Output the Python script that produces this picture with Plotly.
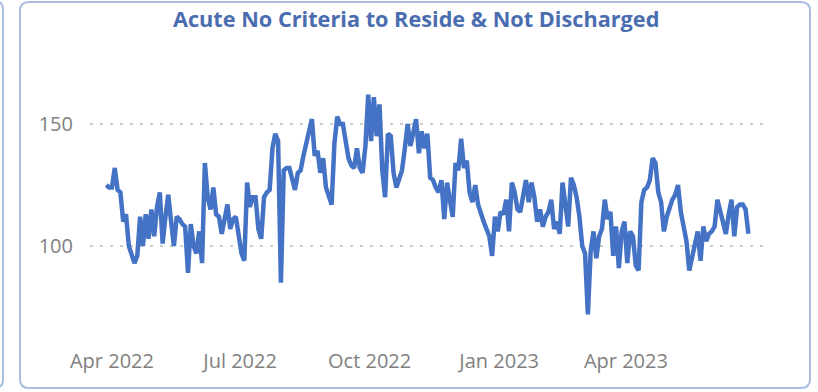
import pandas as pd
import plotly.graph_objects as go

# Census of acute patients with no criteria to reside, sampled every second day
start_date = "2022-03-28"
step_days = 2
patients = [
    125, 124, 124, 132, 123, 122, 110, 113, 100, 97,
    93, 96, 112, 100, 113, 103, 115, 104, 116, 122,
    101, 112, 121, 110, 100, 112, 111, 109, 108, 89,
    109, 100, 97, 106, 93, 134, 120, 115, 124, 113,
    112, 105, 110, 117, 107, 111, 112, 104, 97, 94,
    126, 116, 120, 120, 107, 103, 120, 122, 123, 140,
    146, 143, 85, 131, 132, 132, 128, 123, 130, 131,
    137, 142, 146, 152, 137, 139, 130, 136, 124, 120,
    117, 142, 153, 150, 150, 143, 136, 133, 132, 140,
    132, 130, 141, 162, 143, 161, 145, 158, 131, 120,
    146, 145, 130, 124, 128, 131, 140, 150, 141, 146,
    152, 138, 147, 140, 146, 128, 127, 124, 122, 127,
    111, 126, 118, 112, 134, 131, 144, 132, 135, 122,
    118, 125, 117, 113, 110, 107, 104, 96, 112, 106,
    114, 113, 119, 106, 126, 122, 115, 114, 121, 127,
    118, 126, 120, 110, 115, 108, 112, 114, 119, 107,
    110, 105, 126, 118, 108, 128, 125, 120, 112, 100,
    97, 72, 98, 106, 95, 104, 107, 119, 111, 114,
    96, 108, 91, 106, 110, 93, 106, 104, 92, 90,
    118, 123, 124, 127, 136, 134, 122, 118, 106, 112,
    116, 119, 121, 125, 114, 108, 102, 90, 95, 99,
    106, 94, 108, 102, 105, 106, 108, 119, 114, 110,
    105, 113, 119, 104, 116, 117, 117, 115, 105,
]
dates = pd.date_range(start_date, periods=len(patients), freq=f"{step_days}D")

tick_dates = ["2022-04-01", "2022-07-01", "2022-10-01", "2023-01-01", "2023-04-01"]
tick_labels = ["Apr 2022", "Jul 2022", "Oct 2022", "Jan 2023", "Apr 2023"]
y_ticks = [100, 150]

title_text = "Acute No Criteria to Reside & Not Discharged"

W, H = 818, 392
L, R, T, B = 90, 51, 40, 50
PW, PH = W - L - R, H - T - B

def px(x):
    return (x - L) / PW

def py(y):
    return 1 - (y - T) / PH

def rounded_rect(x0, y0, x1, y1, r):
    return (
        f"M {px(x0 + r)} {py(y0)} L {px(x1 - r)} {py(y0)} "
        f"Q {px(x1)} {py(y0)} {px(x1)} {py(y0 + r)} "
        f"L {px(x1)} {py(y1 - r)} "
        f"Q {px(x1)} {py(y1)} {px(x1 - r)} {py(y1)} "
        f"L {px(x0 + r)} {py(y1)} "
        f"Q {px(x0)} {py(y1)} {px(x0)} {py(y1 - r)} "
        f"L {px(x0)} {py(y0 + r)} "
        f"Q {px(x0)} {py(y0)} {px(x0 + r)} {py(y0)} Z"
    )

border_color = "#a9bde3"
line_color = "#4472c4"

fig = go.Figure()
fig.add_trace(go.Scatter(
    x=dates, y=patients, mode="lines",
    line=dict(color=line_color, width=4.5),
    hoverinfo="skip",
))

# card outline and the edge of the neighbouring card
fig.add_shape(type="path", xref="paper", yref="paper",
              path=rounded_rect(20, 2, 810, 388, 9),
              line=dict(color=border_color, width=2), fillcolor="rgba(0,0,0,0)")
fig.add_shape(type="path", xref="paper", yref="paper",
              path=(f"M {px(-6)} {py(1)} Q {px(3)} {py(1)} {px(3)} {py(9)} "
                    f"L {px(3)} {py(380)} Q {px(3)} {py(388)} {px(-6)} {py(388)}"),
              line=dict(color=border_color, width=2))

fig.add_annotation(
    text=f"<b>{title_text}</b>", xref="paper", yref="paper",
    x=px(416), y=py(18), xanchor="center", yanchor="middle", showarrow=False,
    font=dict(family="Open Sans", size=21.7, color="#4a6db0"),
)

fig.update_layout(
    width=W, height=H,
    margin=dict(l=L, r=R, t=T, b=B),
    paper_bgcolor="white", plot_bgcolor="white",
    showlegend=False,
    font=dict(family="Open Sans", size=20, color="#7f7f7f"),
)
fig.update_xaxes(
    type="date",
    range=["2022-03-16 10:00", "2023-07-10 05:00"],
    tickvals=tick_dates, ticktext=tick_labels,
    showgrid=False, zeroline=False, showline=False, ticks="",
    ticklabelstandoff=5,
)
fig.update_yaxes(
    range=[60.7, 184.4],
    tickvals=y_ticks,
    showgrid=True, gridcolor="#cccccc", griddash="3px,7px", gridwidth=1.5,
    zeroline=False, showline=False, ticks="", ticklabelstandoff=16,
)

fig.write_html("out.html")
